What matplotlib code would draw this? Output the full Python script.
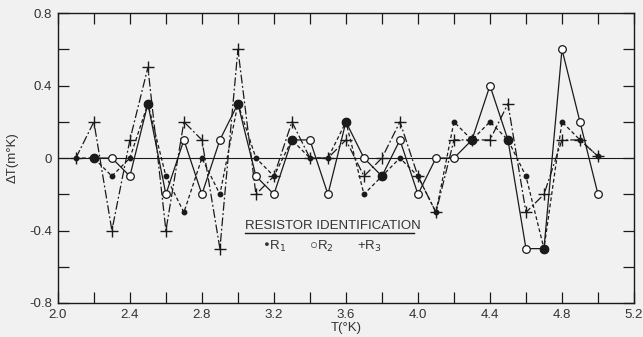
import numpy as np
import matplotlib.pyplot as plt

# temperature points
T = np.round(np.arange(2.1, 5.01, 0.1), 1)

# resistor deviations (m°K)
r1 = [0.0, 0.0, -0.1, 0.0, 0.3, -0.1, -0.3, 0.0, -0.2, 0.3,
      0.0, -0.1, 0.1, 0.0, 0.0, 0.2, -0.2, -0.1, 0.0, -0.1,
      -0.3, 0.2, 0.1, 0.2, 0.1, -0.1, -0.5, 0.2, 0.1, 0.01]
r2 = [np.nan, 0.0, 0.0, -0.1, 0.3, -0.2, 0.1, -0.2, 0.1, 0.3,
      -0.1, -0.2, 0.1, 0.1, -0.2, 0.2, 0.0, -0.1, 0.1, -0.2,
      0.0, 0.0, 0.1, 0.4, 0.1, -0.5, -0.5, 0.6, 0.2, -0.2]
r3 = [0.0, 0.2, -0.4, 0.1, 0.5, -0.4, 0.2, 0.1, -0.5, 0.6,
      -0.2, -0.1, 0.2, 0.0, 0.0, 0.1, -0.1, 0.0, 0.2, -0.1,
      -0.3, 0.1, 0.1, 0.1, 0.3, -0.3, -0.2, 0.1, 0.1, 0.01]

r1 = np.array(r1)
r2 = np.array(r2)
r3 = np.array(r3)

bg = '#f1f1f1'
ink = '#1a1a1a'
plt.rcParams['font.family'] = ['Liberation Sans', 'DejaVu Sans']

fig = plt.figure(figsize=(6.43, 3.37), dpi=100, facecolor=bg)
ax = fig.add_axes([0.090, 0.101, 0.896, 0.860], facecolor=bg)

ax.axhline(0, color=ink, lw=0.8, zorder=1)

ax.plot(T, r3, color=ink, lw=0.9, dashes=[7, 2, 1.5, 2], marker='+',
        ms=9, mew=1.0, zorder=2)
ax.plot(T, r2, color=ink, lw=0.9, ls='-', marker='o', ms=5.5,
        mfc='white', mec=ink, mew=0.9, zorder=3)
ax.plot(T, r1, color=ink, lw=0.9, dashes=[3, 2], marker='o', ms=3.2,
        mfc=ink, mec=ink, zorder=4)

# where R1 and R2 coincide the points show as one large filled dot
same = np.isclose(r1, r2)
ax.plot(T[same], r1[same], ls='none', marker='o', ms=6, color=ink, zorder=5)

ax.set_xlim(2.0, 5.2)
ax.set_ylim(-0.8, 0.8)
ax.set_xticks(np.arange(2.0, 5.21, 0.4))
ax.set_xticklabels(['2.0', '2.4', '2.8', '3.2', '3.6', '4.0', '4.4', '4.8', '5.2'])
ax.set_xticks(np.arange(2.2, 5.1, 0.4), minor=True)
ax.set_yticks([-0.8, -0.4, 0, 0.4, 0.8])
ax.set_yticklabels(['-0.8', '-0.4', '0', '0.4', '0.8'])
ax.set_yticks([-0.6, -0.2, 0.2, 0.6], minor=True)
ax.tick_params(which='both', direction='in', top=True, right=True,
               length=8, width=0.9, color=ink, labelsize=9.5,
               labelcolor='#333333', pad=4)
for s in ax.spines.values():
    s.set_color(ink)
    s.set_linewidth(1.0)

ax.set_xlabel('T(°K)', fontsize=9.5, color='#333333', labelpad=1)
ax.set_ylabel('ΔT(m°K)', fontsize=9.5, color='#333333', labelpad=8)

# legend block drawn as text
fig.text(245 / 643, 1 - 226 / 337, 'RESISTOR IDENTIFICATION', fontsize=9.5,
         color='#333333', va='center')
fig.lines.append(plt.Line2D([245 / 643, 414 / 643], [1 - 233 / 337, 1 - 233 / 337],
                            transform=fig.transFigure, color=ink, lw=1.0))
for x0, txt in [(262, '•R$_1$'), (309, '○R$_2$'), (357, '+R$_3$')]:
    fig.text(x0 / 643, 1 - 246 / 337, txt, fontsize=9.5, color='#333333',
             va='center')

fig.savefig('out.png', dpi=100, facecolor=bg)
